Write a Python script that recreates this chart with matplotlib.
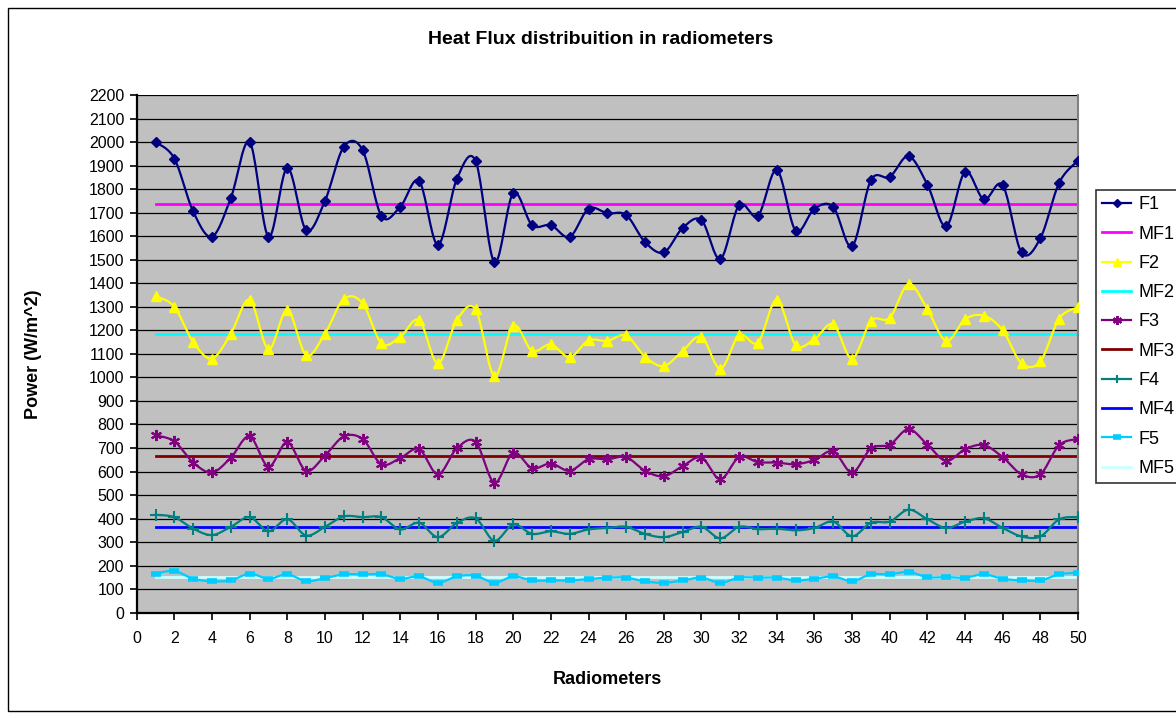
import numpy as np
import matplotlib
matplotlib.use("Agg")
import matplotlib.pyplot as plt
from matplotlib.patches import Rectangle

plt.rcParams['font.family'] = ['Liberation Sans', 'DejaVu Sans']

radiometers = list(range(1, 51))

F1 = [2000, 1930, 1705, 1598, 1762, 2000, 1598, 1890, 1626, 1750,
      1980, 1966, 1686, 1725, 1835, 1563, 1842, 1920, 1490, 1783,
      1647, 1647, 1597, 1717, 1697, 1690, 1575, 1531, 1635, 1668,
      1503, 1732, 1686, 1881, 1624, 1717, 1724, 1557, 1838, 1852,
      1940, 1819, 1642, 1873, 1756, 1816, 1531, 1591, 1827, 1921]
F2 = [1345, 1300, 1150, 1080, 1186, 1330, 1120, 1286, 1095, 1186,
      1333, 1315, 1145, 1172, 1243, 1060, 1243, 1289, 1006, 1220,
      1113, 1140, 1086, 1157, 1155, 1178, 1088, 1048, 1113, 1172,
      1037, 1179, 1148, 1330, 1138, 1163, 1225, 1080, 1240, 1253,
      1397, 1289, 1155, 1247, 1262, 1200, 1060, 1068, 1250, 1298]
F3 = [754, 728, 638, 596, 659, 749, 621, 724, 603, 668,
      749, 738, 631, 657, 695, 588, 698, 726, 553, 680,
      614, 634, 603, 652, 652, 661, 603, 580, 623, 659,
      567, 661, 640, 638, 631, 649, 686, 596, 698, 714,
      780, 714, 645, 695, 712, 661, 588, 588, 712, 738]
F4 = [416, 406, 357, 330, 365, 406, 346, 397, 328, 365,
      409, 406, 406, 354, 382, 321, 381, 401, 306, 375,
      335, 346, 335, 354, 360, 365, 335, 321, 343, 365,
      316, 365, 355, 357, 350, 360, 387, 325, 382, 387,
      438, 397, 360, 387, 401, 360, 324, 324, 397, 406]
F5 = [166, 177, 144, 134, 137, 166, 144, 163, 134, 147,
      163, 163, 163, 144, 154, 127, 154, 157, 127, 154,
      137, 137, 137, 143, 149, 149, 133, 127, 137, 149,
      127, 149, 149, 149, 137, 144, 154, 134, 163, 163,
      173, 151, 151, 149, 163, 144, 137, 137, 163, 170]

MF1 = 1735
MF2 = 1185
MF3 = 665
MF4 = 365
MF5 = 151

series_names = ['F1', 'MF1', 'F2', 'MF2', 'F3', 'MF3', 'F4', 'MF4', 'F5', 'MF5']
y_ticks = list(range(0, 2201, 100))
x_ticks = list(range(0, 51, 2))

title = 'Heat Flux distribuition in radiometers'
xlabel = 'Radiometers'
ylabel = 'Power (W/m^2)'


def smooth(x, y, n=20):
    """Excel-like Bezier smoothing through the data points (drawing only)."""
    x = np.asarray(x, float)
    y = np.asarray(y, float)
    P = np.column_stack([x, y])
    out = []
    for i in range(len(P) - 1):
        p0 = P[i - 1] if i > 0 else P[i]
        p1 = P[i]
        p2 = P[i + 1]
        p3 = P[i + 2] if i + 2 < len(P) else P[i + 1]
        c1 = p1 + (p2 - p0) / 6.0
        c2 = p2 - (p3 - p1) / 6.0
        t = np.linspace(0, 1, n, endpoint=(i == len(P) - 2))[:, None]
        seg = ((1 - t) ** 3) * p1 + 3 * ((1 - t) ** 2) * t * c1 + 3 * (1 - t) * t ** 2 * c2 + t ** 3 * p2
        out.append(seg)
    out = np.vstack(out)
    return out[:, 0], out[:, 1]


W, H = 1176, 719
fig = plt.figure(figsize=(W / 100, H / 100), dpi=100)
fig.patch.set_facecolor('white')

# outer chart border
fig.add_artist(Rectangle((8 / W, 8 / H), 1.2, (H - 16) / H, transform=fig.transFigure,
                         fill=False, edgecolor='black', linewidth=1.0))

ax = fig.add_axes([136.7 / W, 1 - 612.7 / H, (1078 - 136.7) / W, (612.7 - 95) / H])
ax.set_facecolor('#C0C0C0')

ax.set_xlim(0, 50)
ax.set_ylim(0, 2200)
ax.set_yticks(y_ticks)
ax.set_xticks(x_ticks)
for v in y_ticks:
    ax.axhline(v, color='black', lw=0.9, zorder=1)

xr = np.array(radiometers)
lw = 1.6

styles = {
    'F1': dict(color='#000080', marker='D', ms=5.5, mew=1.0),
    'F2': dict(color='#FFFF00', marker='^', ms=7, mew=1.0),
    'F3': dict(color='#800080', marker=(6, 2, 0), ms=8, mew=1.5),
    'F4': dict(color='#008080', marker='+', ms=8, mew=1.5),
    'F5': dict(color='#00CCFF', marker='_', ms=7, mew=4),
}
mean_colors = {'MF1': '#FF00FF', 'MF2': '#00FFFF', 'MF3': '#800000', 'MF4': '#0000FF', 'MF5': '#CCFFFF'}
data = {'F1': F1, 'F2': F2, 'F3': F3, 'F4': F4, 'F5': F5}
means = {'MF1': MF1, 'MF2': MF2, 'MF3': MF3, 'MF4': MF4, 'MF5': MF5}

handles = []
for name in series_names:
    if name in data:
        st = styles[name]
        sx, sy = smooth(xr, data[name])
        ax.plot(sx, sy, color=st['color'], lw=lw, zorder=3)
        ax.plot(xr, data[name], ls='none', color=st['color'], marker=st['marker'],
                ms=st['ms'], mew=st['mew'], zorder=4)
        h, = ax.plot([], [], color=st['color'], lw=lw, marker=st['marker'],
                     ms=st['ms'] * 0.8, mew=st['mew'], label=name)
    else:
        h, = ax.plot(xr, np.full(len(xr), means[name]), color=mean_colors[name], lw=2.0,
                     zorder=2, label=name)
    handles.append(h)

ax.spines['top'].set_visible(False)
ax.spines['right'].set_color('#808080')
ax.spines['right'].set_linewidth(1.5)
for s in ['left', 'bottom']:
    ax.spines[s].set_color('black')
    ax.spines[s].set_linewidth(1.6)

ax.tick_params(axis='both', direction='out', length=5, width=1.2, colors='black',
               labelsize=11.5)
ax.tick_params(axis='y', pad=4)
ax.tick_params(axis='x', pad=8)

ax.set_xlabel(xlabel, fontsize=13, fontweight='bold', labelpad=18)
fig.text(33 / W, 1 - 354 / H, ylabel, rotation=90, ha='center', va='center',
         fontsize=13, fontweight='bold')
fig.text(601 / W, 1 - 39 / H, title, ha='center', va='center', fontsize=14, fontweight='bold')

leg = fig.legend(handles=handles, labels=series_names, loc='upper left',
                 bbox_to_anchor=(1096 / W, 1 - 190 / H), frameon=True, fancybox=False,
                 edgecolor='black', fontsize=13, handlelength=1.6, labelspacing=0.68,
                 borderpad=0.35, handletextpad=0.4, borderaxespad=0)
leg.get_frame().set_linewidth(1.2)

fig.savefig('out.png', dpi=100)
